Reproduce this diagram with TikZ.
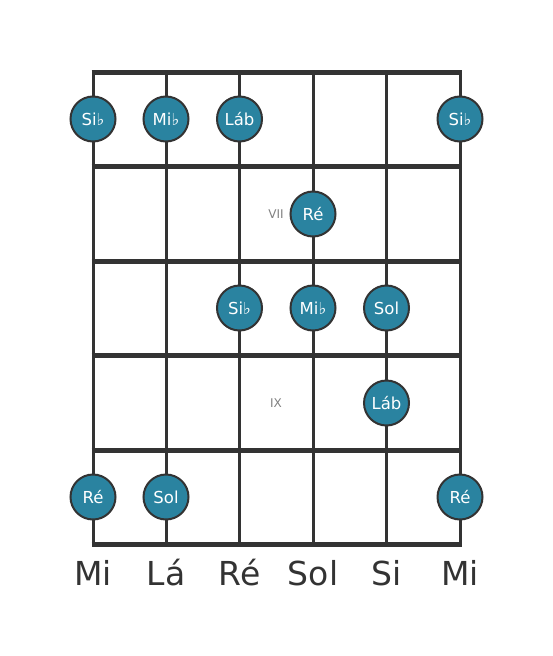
\documentclass[tikz,border=0pt]{standalone}
\usepackage{fontspec}
\setmainfont{DejaVu Sans}
\usepackage{tikz}
\definecolor{dotblue}{RGB}{42,131,160}
\definecolor{boardgray}{RGB}{51,51,51}
\tikzset{
  note/.style={circle, draw=boardgray, line width=2pt, fill=dotblue,
    minimum size=45pt, inner sep=0pt, text=white, font=\fontsize{16.5}{16.5}\selectfont},
  fretlabel/.style={text=gray, font=\fontsize{12}{12}\selectfont},
  stringname/.style={text=boardgray, font=\fontsize{33}{33}\selectfont}
}
\begin{document}
\begin{tikzpicture}[x=1pt, y=-1pt]
  \useasboundingbox (0,0) rectangle (553,656);
  % strings
  \draw[boardgray, line width=3pt] (93,72) -- (93,544.5);
  \draw[boardgray, line width=3pt] (166,72) -- (166,544.5);
  \draw[boardgray, line width=3pt] (239.5,72) -- (239.5,544.5);
  \draw[boardgray, line width=3pt] (313,72) -- (313,544.5);
  \draw[boardgray, line width=3pt] (386.5,72) -- (386.5,544.5);
  \draw[boardgray, line width=3pt] (460,72) -- (460,544.5);
  % frets
  \draw[boardgray, line width=5pt] (91.5,72) -- (461.5,72);
  \draw[boardgray, line width=5pt] (91.5,166.5) -- (461.5,166.5);
  \draw[boardgray, line width=5pt] (91.5,261) -- (461.5,261);
  \draw[boardgray, line width=5pt] (91.5,355.5) -- (461.5,355.5);
  \draw[boardgray, line width=5pt] (91.5,450) -- (461.5,450);
  \draw[boardgray, line width=5pt] (91.5,544.5) -- (461.5,544.5);
  % fret numbers
  \node[fretlabel] (vii) at (276,214) {VII};
  \node[fretlabel] (ix) at (276,403) {IX};
  % notes
  \node[note] (sib1) at (93,119) {Si♭};
  \node[note] (mib1) at (166,119) {Mi♭};
  \node[note] (lab1) at (239.5,119) {Láb};
  \node[note] (sib2) at (460,119) {Si♭};
  \node[note] (re1) at (313,214) {Ré};
  \node[note] (sib3) at (239.5,308) {Si♭};
  \node[note] (mib2) at (313,308) {Mi♭};
  \node[note] (sol1) at (386.5,308) {Sol};
  \node[note] (lab2) at (386.5,403) {Láb};
  \node[note] (re2) at (93,497) {Ré};
  \node[note] (sol2) at (166,497) {Sol};
  \node[note] (re3) at (460,497) {Ré};
  % open strings
  \node[stringname] (s6) at (93,573) {Mi};
  \node[stringname] (s5) at (166,573) {Lá};
  \node[stringname] (s4) at (239.5,573) {Ré};
  \node[stringname] (s3) at (313,573) {Sol};
  \node[stringname] (s2) at (386.5,573) {Si};
  \node[stringname] (s1) at (460,573) {Mi};
\end{tikzpicture}
\end{document}
